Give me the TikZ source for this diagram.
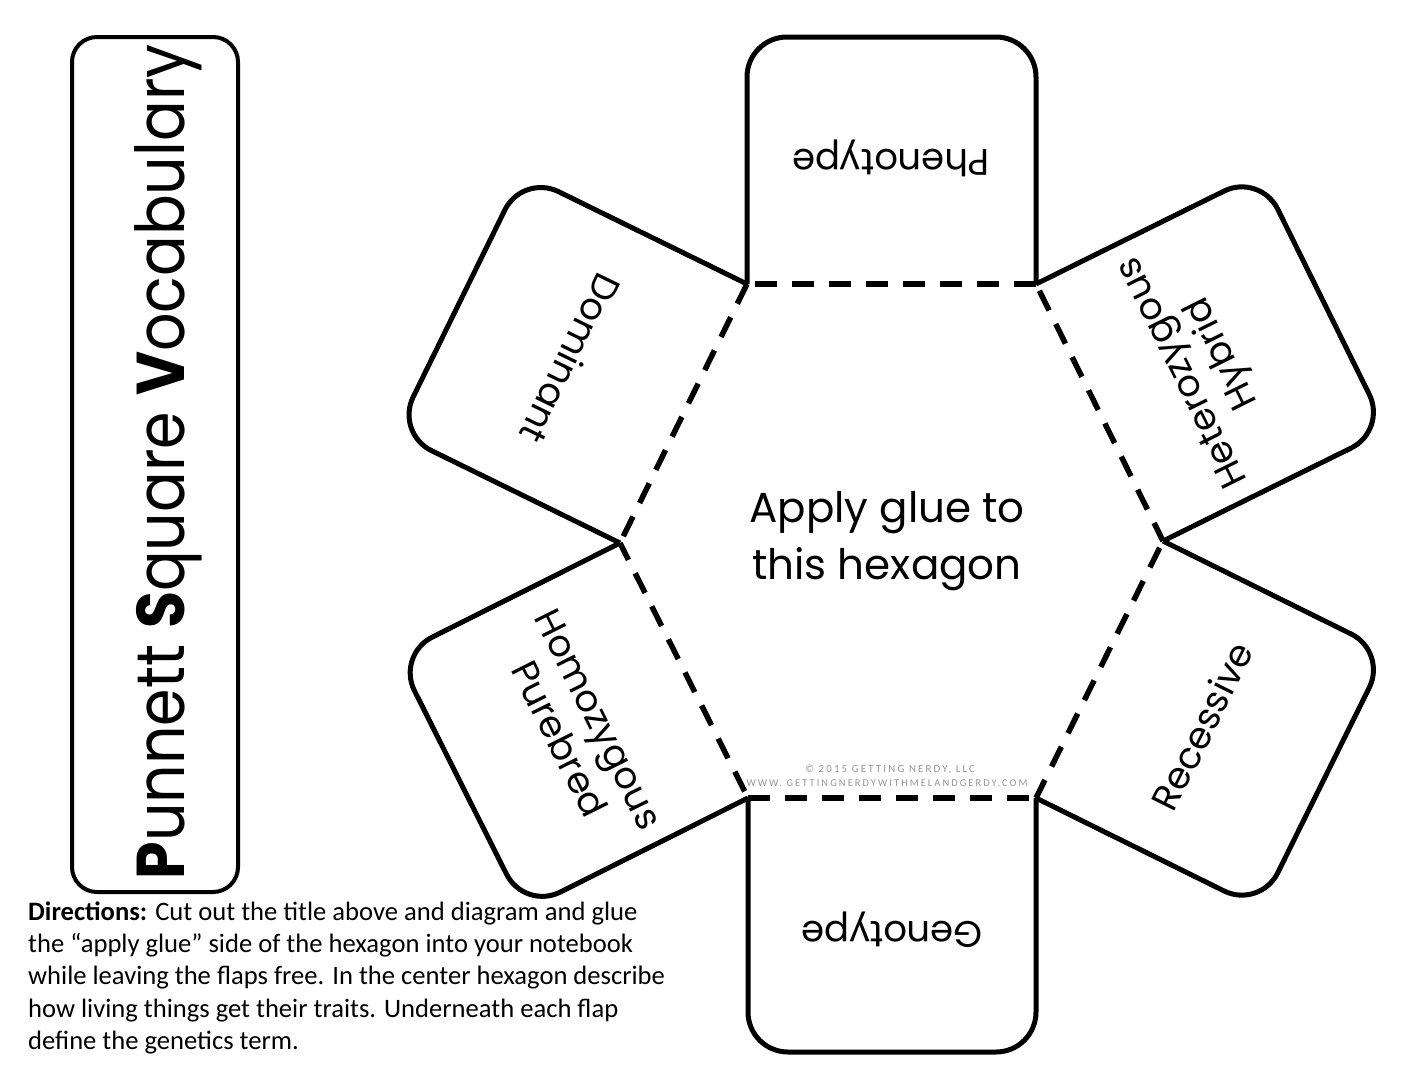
\documentclass[tikz,border=0pt]{standalone}
\usepackage{fontspec}
\usepackage{graphicx}
\setmainfont{Poppins}
\newfontfamily\dirfont{Carlito}
\newfontfamily\copyfont[LetterSpace=20]{Carlito}
\definecolor{cpgray}{RGB}{150,150,150}
\begin{document}
\begin{tikzpicture}[x=1pt,y=-1pt,
  flapline/.style={line width=5pt, rounded corners=40pt},
  fold/.style={line width=5.5pt, dash pattern=on 22pt off 15pt, dash phase=29.5pt},
  lbl/.style={font=\fontsize{37}{44}\selectfont, align=center, inner sep=0pt},
  dirline/.style={anchor=base west, inner sep=0pt, font=\dirfont\fontsize{26.6}{32}\selectfont},
  cptext/.style={inner sep=0pt, text=cpgray, font=\copyfont\fontsize{10}{12}\selectfont}
]
\useasboundingbox (0,0) rectangle (1408,1088);
% hexagon vertices
\coordinate (TL) at (747,284);
\coordinate (TR) at (1036,284);
\coordinate (R)  at (1163,541);
\coordinate (BR) at (1036,798);
\coordinate (BL) at (748,798);
\coordinate (L)  at (620,543);
% flap outer corners
\coordinate (T1) at (747,37);
\coordinate (T2) at (1036,37);
\coordinate (B1) at (748,1052);
\coordinate (B2) at (1036,1052);
\coordinate (D1) at (522.5,174);
\coordinate (D2) at (395.5,433);
\coordinate (H1) at (1260,173.3);
\coordinate (H2) at (1387,430.3);
\coordinate (R1) at (1387,651.7);
\coordinate (R2) at (1260,908.7);
\coordinate (M1) at (396.5,655);
\coordinate (M2) at (524.5,910);
% flaps
\draw[flapline] (TL) -- (T1) -- (T2) -- (TR);
\draw[flapline] (TR) -- (H1) -- (H2) -- (R);
\draw[flapline] (R) -- (R1) -- (R2) -- (BR);
\draw[flapline] (BR) -- (B2) -- (B1) -- (BL);
\draw[flapline] (BL) -- (M2) -- (M1) -- (L);
\draw[flapline] (L) -- (D2) -- (D1) -- (TL);
% fold lines
\draw[fold] (TL) -- (TR);
\draw[fold] (TR) -- (R);
\draw[fold] (R) -- (BR);
\draw[fold] (BR) -- (BL);
\draw[fold] (BL) -- (L);
\draw[fold] (L) -- (TL);
% flap labels
\node[lbl, rotate=180] (phen) at (891,158) {Phenotype};
\node[lbl, rotate=180] (geno) at (892,930) {Genotype};
\node[lbl, rotate=244] (dom) at (571,359) {Dominant};
\node[lbl, rotate=116.4] (het) at (1204,362) {Heterozygous\\Hybrid};
\node[lbl, rotate=-63.5] (hom) at (579,729) {Homozygous\\Purebred};
\node[lbl, rotate=63.5] (rec) at (1202,726) {Recessive};
% centre text
\node[align=center, inner sep=0pt, font=\fontsize{42}{57}\selectfont] (glue) at (887,541) {Apply glue to\\this hexagon};
% copyright
\node[cptext] (cp1) at (890,769) {\resizebox{170pt}{!}{© 2015 GETTING NERDY, LLC}};
\node[cptext] (cp2) at (887,783) {\resizebox{281pt}{!}{WWW. GETTINGNERDYWITHMELANDGERDY.COM}};
% title
\node[draw, line width=4pt, rounded corners=25pt, minimum width=166pt, minimum height=855pt, inner sep=0pt] (titlebox) at (155,464.5) {};
\node[rotate=90, anchor=base, inner sep=0pt] (title) at (184,462) {\resizebox{835pt}{50pt}{{\bfseries P}unnett {\bfseries S}quare {\bfseries V}ocabulary}};
% directions
\node[dirline] (d1) at (28,920) {{\bfseries Directions:} Cut out the title above and diagram and glue};
\node[dirline] (d2) at (28,952) {the “apply glue” side of the hexagon into your notebook};
\node[dirline] (d3) at (28,984) {while leaving the flaps free. In the center hexagon describe};
\node[dirline] (d4) at (28,1017) {how living things get their traits. Underneath each flap};
\node[dirline] (d5) at (28,1049) {define the genetics term.};
\end{tikzpicture}
\end{document}
